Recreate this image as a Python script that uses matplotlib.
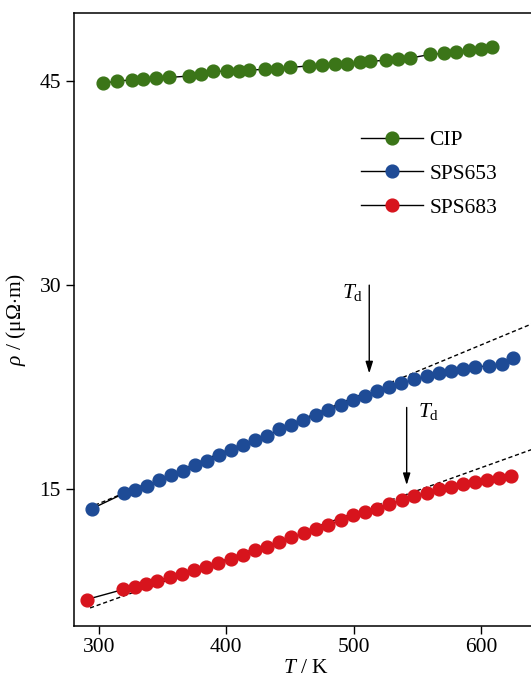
import matplotlib
matplotlib.use('Agg')
import matplotlib.pyplot as plt

plt.rcParams['font.family'] = ['Liberation Serif', 'DejaVu Serif']
plt.rcParams['mathtext.fontset'] = 'custom'
plt.rcParams['mathtext.rm'] = 'Liberation Serif'
plt.rcParams['mathtext.it'] = 'Liberation Serif:italic'

# CIP
cip_T = [303.4, 314.4, 325.7, 334.3, 344.5, 355.0, 370.9, 379.9, 389.8, 400.3,
         410.0, 417.8, 430.2, 439.8, 450.0, 465.2, 475.4, 485.2, 494.8, 505.0,
         513.1, 525.2, 535.1, 544.5, 560.3, 570.8, 580.4, 590.4, 600.3, 608.7]
cip_rho = [44.81, 45.00, 45.05, 45.12, 45.18, 45.25, 45.35, 45.51, 45.69, 45.71,
           45.73, 45.79, 45.84, 45.86, 45.98, 46.10, 46.13, 46.20, 46.25, 46.37,
           46.42, 46.52, 46.59, 46.67, 46.94, 47.01, 47.13, 47.28, 47.35, 47.50]

# SPS653
sps653_T = [294.7, 319.6, 328.6, 337.5, 346.9, 356.4, 365.8, 375.2, 384.6, 394.1,
            403.5, 412.9, 422.3, 432.2, 441.7, 451.1, 460.5, 470.5, 479.9, 489.9,
            499.3, 508.7, 518.1, 528.1, 537.5, 547.5, 557.5, 566.9, 576.3, 586.3,
            595.7, 606.2, 616.2, 625.6]
sps653_rho = [13.60, 14.71, 14.95, 15.29, 15.68, 16.03, 16.32, 16.76, 17.10, 17.50,
              17.89, 18.23, 18.62, 18.96, 19.41, 19.74, 20.09, 20.43, 20.87, 21.21,
              21.56, 21.85, 22.24, 22.49, 22.78, 23.08, 23.32, 23.52, 23.71, 23.85,
              23.96, 24.10, 24.20, 24.64]

# SPS683
sps683_T = [290.3, 319.1, 328.3, 336.9, 345.8, 355.8, 364.9, 374.6, 384.0, 393.5,
            403.4, 412.9, 422.3, 432.2, 441.7, 451.1, 461.1, 470.5, 479.9, 489.9,
            499.3, 509.2, 518.7, 528.1, 538.1, 547.5, 557.5, 566.9, 576.3, 586.3,
            595.7, 605.1, 614.6, 623.5]
sps683_rho = [6.92, 7.66, 7.85, 8.07, 8.29, 8.58, 8.78, 9.07, 9.32, 9.61,
              9.88, 10.18, 10.54, 10.81, 11.15, 11.48, 11.77, 12.11, 12.38, 12.75,
              13.09, 13.36, 13.60, 13.94, 14.21, 14.51, 14.75, 15.00, 15.15, 15.39,
              15.54, 15.73, 15.83, 15.98]

# linear fits (dashed), given by end points
fit653_T = [296.9, 645.0]
fit653_rho = [13.85, 27.35]
fit683_T = [293.0, 645.0]
fit683_rho = [6.30, 18.10]

# T_d markers
td_T = [512.3, 541.7]
td_top = [30.0, 21.02]
td_tip = [23.52, 15.32]

green = '#3b7518'
blue = '#1e4b96'
red = '#d7141d'

fig = plt.figure(figsize=(5.31, 6.80), dpi=100)
ax = fig.add_axes([0.1385, 0.0799, 0.875, 0.9014])

ms = 9.2
ax.plot(fit653_T, fit653_rho, color='k', lw=1, ls=(0, (3, 2)))
ax.plot(fit683_T, fit683_rho, color='k', lw=1, ls=(0, (3, 2)))
ax.plot(cip_T, cip_rho, '-', color='k', lw=1, marker='o', ms=ms,
        mfc=green, mec=green, label='CIP')
ax.plot(sps653_T, sps653_rho, '-', color='k', lw=1, marker='o', ms=ms,
        mfc=blue, mec=blue, label='SPS653')
ax.plot(sps683_T, sps683_rho, '-', color='k', lw=1, marker='o', ms=ms,
        mfc=red, mec=red, label='SPS683')

for x, y0, y1 in zip(td_T, td_top, td_tip):
    ax.annotate('', xy=(x, y1), xytext=(x, y0),
                arrowprops=dict(arrowstyle='-|>,head_length=0.7,head_width=0.22',
                                color='k', lw=1, shrinkA=0, shrinkB=0))
ax.text(490.7, 29.05, r'$T_{\mathrm{d}}$', fontsize=15.5, ha='left', va='baseline')
ax.text(550.3, 20.33, r'$T_{\mathrm{d}}$', fontsize=15.5, ha='left', va='baseline')

ax.set_xlim(280, 645)
ax.set_ylim(5, 50)
ax.set_xticks([300, 400, 500, 600])
ax.set_yticks([15, 30, 45])
ax.tick_params(direction='out', length=6, width=1, labelsize=15.5, pad=3)
for side in ['left', 'bottom', 'top']:
    ax.spines[side].set_linewidth(1.1)
ax.spines['right'].set_visible(False)

ax.set_xlabel(r'$T$ / K', fontsize=15.5, labelpad=1)
ax.set_ylabel(r'$\rho$ / ($\mathrm{\mu\Omega}$$\cdot$m)', fontsize=15.5)
ax.yaxis.set_label_coords(-0.097, 0.5)

leg = ax.legend(loc='upper left', bbox_to_anchor=(360.7 / 531, 1 - 130 / 680),
                bbox_transform=fig.transFigure, frameon=False, fontsize=15.5,
                handlelength=2.9, handletextpad=0.3, labelspacing=0.64,
                borderpad=0, borderaxespad=0, numpoints=1)

fig.savefig('out.png', dpi=100)
